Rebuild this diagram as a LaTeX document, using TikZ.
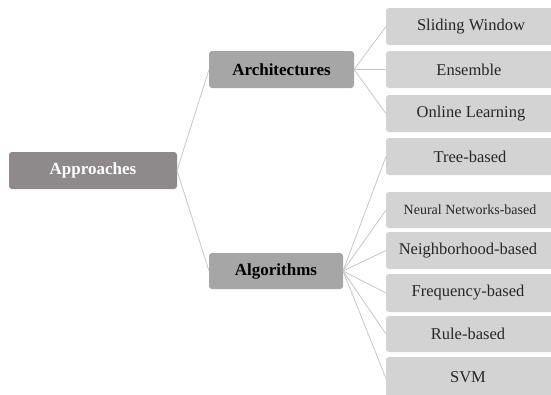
\documentclass[tikz,border=0pt]{standalone}
\usepackage{fontspec}
\setmainfont{Liberation Serif}
\begin{document}
\begin{tikzpicture}[x=1pt,y=-1pt,
  conn/.style={draw=black!22,line width=0.8pt},
  rootbox/.style={fill=rootc,rounded corners=3pt},
  midbox/.style={fill=midc,rounded corners=3pt},
  leafbox/.style={fill=leafc,rounded corners=3pt},
  boldtxt/.style={inner sep=0pt,font=\bfseries\fontsize{17}{19}\selectfont},
  leaftxt/.style={inner sep=0pt,text=black!85,font=\fontsize{16.5}{19}\selectfont},
  smalltxt/.style={inner sep=0pt,text=black!85,font=\fontsize{14}{16}\selectfont}]
\definecolor{rootc}{HTML}{8E8A8B}
\definecolor{midc}{HTML}{A6A6A6}
\definecolor{leafc}{HTML}{D3D3D3}
\useasboundingbox (0,0) rectangle (551,394);
\clip (0,0) rectangle (551,394);
% root
\path[rootbox] (9,152) rectangle (177,189);
\node[boldtxt,text=white] (appr) at (93,170.5) {Approaches};
\coordinate (apprR) at (177,170.5);
% mid
\path[midbox] (209,51) rectangle (354,88);
\node[boldtxt] (arch) at (281.5,69.5) {Architectures};
\coordinate (archL) at (209,69.5);
\coordinate (archR) at (354,69.5);
\path[midbox] (209,253) rectangle (343,289);
\node[boldtxt] (algo) at (276,271) {Algorithms};
\coordinate (algoL) at (209,271);
\coordinate (algoR) at (343,271);
% leaves
\foreach \n/\ya/\yb in {sw/8/45,en/51/88,ol/95/132,tr/138/175,nn/192/228,ng/232/269,fr/274/312,ru/316/352,sv/357/400}{
  \path[leafbox] (386,\ya) rectangle (560,\yb);
  \coordinate (\n) at (386,{(\ya+\yb)/2});
}
\node[leaftxt] (swt) at (471,26.5) {Sliding Window};
\node[leaftxt] (ent) at (469,69.5) {Ensemble};
\node[leaftxt] (olt) at (471,113.5) {Online Learning};
\node[leaftxt] (trt) at (470,156.5) {Tree-based};
\node[smalltxt] (nnt) at (470,210) {Neural Networks-based};
\node[leaftxt] (ngt) at (468,250.5) {Neighborhood-based};
\node[leaftxt] (frt) at (468,293) {Frequency-based};
\node[leaftxt] (rut) at (468,334) {Rule-based};
\node[leaftxt] (svt) at (468,377) {SVM};
% connectors
\draw[conn] (apprR) -- (archL);
\draw[conn] (apprR) -- (algoL);
\foreach \t in {sw,en,ol} \draw[conn] (archR) -- (\t);
\foreach \t in {tr,nn,ng,fr,ru,sv} \draw[conn] (algoR) -- (\t);
\end{tikzpicture}
\end{document}
